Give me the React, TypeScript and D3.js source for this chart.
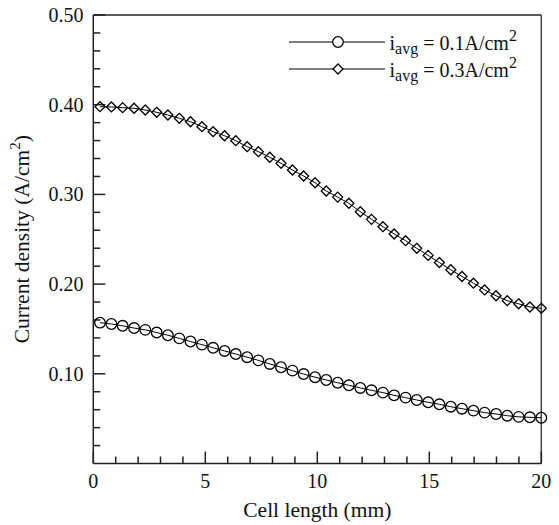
import React from "react";
import * as d3 from "d3";

const cellLength = [0.30, 0.81, 1.31, 1.82, 2.32, 2.83, 3.33, 3.84, 4.34, 4.85, 5.35, 5.86, 6.36, 6.87, 7.37, 7.88, 8.38, 8.89, 9.39, 9.90, 10.40, 10.91, 11.41, 11.92, 12.42, 12.93, 13.43, 13.94, 14.44, 14.95, 15.45, 15.96, 16.46, 16.97, 17.47, 17.98, 18.48, 18.99, 19.49, 20.00];

const density01 = [0.157, 0.1555, 0.1535, 0.151, 0.149, 0.146, 0.143, 0.1395, 0.136, 0.1325, 0.129, 0.1255, 0.122, 0.1185, 0.115, 0.111, 0.1073, 0.1035, 0.0997, 0.0962, 0.0931, 0.09, 0.0872, 0.0842, 0.0816, 0.079, 0.076, 0.0734, 0.0708, 0.0682, 0.066, 0.0633, 0.0611, 0.0589, 0.0567, 0.0552, 0.0533, 0.052, 0.0515, 0.051];

const density03 = [0.3978, 0.3975, 0.3967, 0.396, 0.3941, 0.3915, 0.3885, 0.3848, 0.381, 0.3755, 0.3699, 0.3654, 0.3599, 0.3532, 0.3476, 0.3414, 0.3347, 0.3272, 0.3205, 0.313, 0.3038, 0.297, 0.2901, 0.2807, 0.2722, 0.264, 0.2559, 0.2484, 0.2399, 0.232, 0.224, 0.216, 0.2085, 0.201, 0.1935, 0.187, 0.1815, 0.178, 0.1745, 0.173];

const xMajorTicks = [0, 5, 10, 15, 20];
const xMinorTicks = [1, 2, 3, 4, 6, 7, 8, 9, 11, 12, 13, 14, 16, 17, 18, 19];
const yMajorTicks = [0.1, 0.2, 0.3, 0.4, 0.5];
const yMinorTicks = [0.02, 0.04, 0.06, 0.08, 0.12, 0.14, 0.16, 0.18, 0.22, 0.24, 0.26, 0.28, 0.32, 0.34, 0.36, 0.38, 0.42, 0.44, 0.46, 0.48];

const seriesLabels = ["0.1A/cm", "0.3A/cm"];

const FONT = "Liberation Serif, DejaVu Serif, serif";

export default function App() {
  const W = 559, H = 525;
  const left = 93.3, right = 541.3, top = 15, bottom = 463.5;
  const x = d3.scaleLinear().domain([0, 20]).range([left, right]);
  const y = d3.scaleLinear().domain([0, 0.5]).range([bottom, top]);

  const line = d3.line<number>()
    .x((_, i) => x(cellLength[i]))
    .y((d) => y(d));

  const diamondPath = (cx: number, cy: number, r: number) =>
    `M${cx},${cy - r}L${cx + r},${cy}L${cx},${cy + r}L${cx - r},${cy}Z`;

  const axisColor = "#222";
  const ts = { fontFamily: FONT } as React.CSSProperties;

  return (
    <svg width={W} height={H} style={{ position: "absolute", left: 0, top: 0, background: "#fff", fontFamily: FONT }}>
      <rect x={0} y={0} width={W} height={H} fill="#fff" />
      {/* frame */}
      <line x1={left} x2={right} y1={top} y2={top} stroke={axisColor} strokeWidth={1.5} />
      <line x1={right} x2={right} y1={top} y2={bottom} stroke="#444" strokeWidth={1.5} />
      <line x1={left} x2={right} y1={bottom} y2={bottom} stroke={axisColor} strokeWidth={1.5} />
      <line x1={left} x2={left} y1={top} y2={bottom} stroke={axisColor} strokeWidth={1.5} />

      {/* x ticks */}
      {xMajorTicks.map((t) => (
        <g key={"xM" + t}>
          <line x1={x(t)} x2={x(t)} y1={bottom} y2={bottom - 12} stroke={axisColor} strokeWidth={1.5} />
          <text style={ts} x={x(t)} y={487.5} fontSize={20} textAnchor="middle" fill="#111">{t}</text>
        </g>
      ))}
      {xMinorTicks.map((t) => (
        <line key={"xm" + t} x1={x(t)} x2={x(t)} y1={bottom} y2={bottom - 7} stroke={axisColor} strokeWidth={1.5} />
      ))}

      {/* y ticks */}
      {yMajorTicks.map((t) => (
        <g key={"yM" + t}>
          <line x1={left} x2={left + 12} y1={y(t)} y2={y(t)} stroke={axisColor} strokeWidth={1.5} />
          <text style={ts} x={83.5} y={y(t) + 6.8} fontSize={20} textAnchor="end" fill="#111">{d3.format(".2f")(t)}</text>
        </g>
      ))}
      {yMinorTicks.map((t) => (
        <line key={"ym" + t} x1={left} x2={left + 7} y1={y(t)} y2={y(t)} stroke={axisColor} strokeWidth={1.5} />
      ))}

      {/* axis titles */}
      <text style={ts} x={(left + right) / 2} y={517} fontSize={21.5} textAnchor="middle" fill="#111">Cell length (mm)</text>
      <text style={ts} transform={`translate(29, ${(top + bottom) / 2}) rotate(-90)`} fontSize={21.5} textAnchor="middle" fill="#111">
        Current density (A/cm<tspan fontSize={15} dy={-9}>2</tspan><tspan dy={9}>)</tspan>
      </text>

      {/* series lines */}
      <path d={line(density01) || ""} fill="none" stroke="#000" strokeWidth={1} />
      <path d={line(density03) || ""} fill="none" stroke="#000" strokeWidth={1} />

      {/* markers */}
      {density01.map((v, i) => (
        <circle key={"c" + i} cx={x(cellLength[i])} cy={y(v)} r={5.3} fill="none" stroke="#000" strokeWidth={1.3} />
      ))}
      {density03.map((v, i) => (
        <path key={"d" + i} d={diamondPath(x(cellLength[i]), y(v), 5)} fill="none" stroke="#000" strokeWidth={1.3} />
      ))}

      {/* legend */}
      {[0, 1].map((k) => {
        const ly = k === 0 ? 42 : 69;
        return (
          <g key={"lg" + k}>
            <line x1={289} x2={385} y1={ly} y2={ly} stroke="#000" strokeWidth={1.2} />
            {k === 0 ? (
              <circle cx={338} cy={ly} r={5.3} fill="#fff" stroke="#000" strokeWidth={1.3} />
            ) : (
              <path d={diamondPath(338, ly, 5)} fill="#fff" stroke="#000" strokeWidth={1.3} />
            )}
            <text style={ts} x={389.5} y={ly + 8} fontSize={20} fill="#111">
              i<tspan fontSize={16} dy={3.5}>avg</tspan><tspan dy={-3.5}> = {seriesLabels[k]}</tspan><tspan fontSize={16} dy={-9}>2</tspan>
            </text>
          </g>
        );
      })}
    </svg>
  );
}
